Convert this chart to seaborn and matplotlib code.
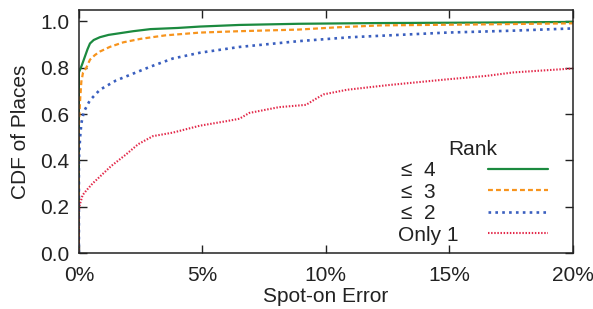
import numpy as np
import pandas as pd
import matplotlib
matplotlib.use('Agg')
import matplotlib.pyplot as plt
import seaborn as sns

# Spot-on error (%) and CDF for each rank group
rank4_x = [0, 0, 0.08, 0.15, 0.25, 0.35, 0.45, 0.6, 0.85, 1.2, 1.7, 2.2, 2.9, 4.0, 4.9, 6.5, 8.9, 12.0, 16.0, 20.0]
rank4_y = [0, 0.78, 0.80, 0.82, 0.85, 0.88, 0.905, 0.92, 0.932, 0.942, 0.95, 0.958, 0.967, 0.972, 0.978, 0.985, 0.99, 0.993, 0.995, 0.998]

rank3_x = [0, 0, 0.05, 0.1, 0.17, 0.3, 0.45, 0.65, 0.85, 1.25, 1.8, 2.5, 3.5, 4.9, 6.5, 8.9, 10.5, 12.2, 16.0, 20.0]
rank3_y = [0, 0.55, 0.66, 0.74, 0.78, 0.80, 0.835, 0.855, 0.87, 0.89, 0.91, 0.925, 0.94, 0.952, 0.958, 0.965, 0.975, 0.983, 0.987, 0.992]

rank2_x = [0, 0, 0.05, 0.1, 0.2, 0.45, 0.85, 1.5, 2.2, 2.9, 3.8, 4.9, 6.5, 8.9, 11.0, 14.9, 17.5, 20.0]
rank2_y = [0, 0.40, 0.50, 0.56, 0.61, 0.66, 0.705, 0.745, 0.775, 0.805, 0.84, 0.865, 0.89, 0.915, 0.932, 0.952, 0.96, 0.97]

only1_x = [0, 0, 0.04, 0.15, 0.3, 0.55, 0.85, 1.3, 1.9, 2.4, 3.0, 3.8, 4.9, 6.0, 6.5, 6.9, 8.1, 9.2, 9.5, 9.9, 10.85, 12.5, 14.9, 16.5, 17.6, 20.0]
only1_y = [0, 0.18, 0.21, 0.25, 0.27, 0.30, 0.33, 0.375, 0.425, 0.47, 0.505, 0.52, 0.55, 0.57, 0.58, 0.605, 0.63, 0.64, 0.66, 0.685, 0.705, 0.725, 0.75, 0.765, 0.78, 0.797]

labels = ['≤  4    ', '≤  3    ', '≤  2    ', 'Only 1']
colors = ['#1b8a3f', '#f7941d', '#3a5fbf', '#e3294a']
styles = ['-', (0, (2.2, 1.4)), (0, (1.0, 1.6)), (0, (0.7, 0.8))]
widths = [1.6, 1.6, 1.9, 1.5]

sns.set_style('ticks')
plt.rcParams['font.family'] = ['Liberation Sans', 'DejaVu Sans']

fig, ax = plt.subplots(figsize=(5.93, 3.09), dpi=100)

series = [(rank4_x, rank4_y), (rank3_x, rank3_y), (rank2_x, rank2_y), (only1_x, only1_y)]
for (xs, ys), lab, col, ls, lw in zip(series, labels, colors, styles, widths):
    df = pd.DataFrame({'err': xs, 'cdf': ys})
    sns.lineplot(data=df, x='err', y='cdf', ax=ax, estimator=None, sort=False,
                 color=col, linestyle=ls, linewidth=lw, label=lab)

ax.set_xlim(0, 20)
ax.set_ylim(0, 1.05)
ax.set_xticks([0, 5, 10, 15, 20])
ax.set_xticklabels(['0%', '5%', '10%', '15%', '20%'])
ax.set_yticks([0, 0.2, 0.4, 0.6, 0.8, 1.0])
ax.set_yticklabels(['0.0', '0.2', '0.4', '0.6', '0.8', '1.0'])
ax.tick_params(direction='in', length=5.5, width=1, top=True, right=True,
               labelsize=15, colors='#222222', pad=7)
ax.tick_params(axis='x', pad=9)
for sp in ax.spines.values():
    sp.set_linewidth(1.1)
    sp.set_color('#222222')
ax.set_xlabel('Spot-on Error', fontsize=15, color='#222222', labelpad=2)
ax.set_ylabel('CDF of Places', fontsize=15, color='#222222', labelpad=7)

leg = ax.legend(title='Rank', frameon=False, markerfirst=False, fontsize=15,
                title_fontsize=15, loc='lower right', bbox_to_anchor=(0.966, 0.0),
                handlelength=2.86, handletextpad=1.43, labelspacing=0.12,
                borderaxespad=0.0)
for t in leg.get_texts():
    t.set_color('#222222')
leg.get_title().set_color('#222222')

plt.subplots_adjust(left=0.133, right=0.966, top=0.968, bottom=0.181)
plt.savefig('out.png', dpi=100)
